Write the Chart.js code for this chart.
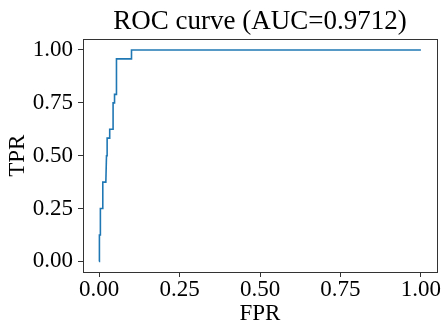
<!DOCTYPE html>
<html>
<head>
<meta charset="utf-8">
<script src="https://cdn.jsdelivr.net/npm/chart.js@4/dist/chart.umd.min.js"></script>
<style>
  html, body { margin: 0; padding: 0; background: #fff; }
  #wrap { width: 443px; height: 322px; }
</style>
</head>
<body>
<div id="wrap"><canvas id="roc"></canvas></div>
<script>
// ROC points (step curve)
const fpr = [0, 0.001, 0.004, 0.004, 0.0115, 0.0115, 0.021, 0.023, 0.025, 0.025, 0.033, 0.033, 0.0435, 0.0435, 0.048, 0.048, 0.053, 0.054, 0.1007, 0.1007, 1.0];
const tpr = [0, 0.125, 0.125, 0.25, 0.25, 0.375, 0.375, 0.5, 0.5, 0.583, 0.583, 0.625, 0.625, 0.75, 0.75, 0.79, 0.79, 0.958, 0.958, 1.0, 1.0];
const tickVals = [0, 0.25, 0.5, 0.75, 1.0];
const titleText = 'ROC curve (AUC=0.9712)';

const serif = '"Liberation Serif", "DejaVu Serif", serif';

const boxPlugin = {
    id: 'box',
    afterDraw(chart) {
        const a = chart.chartArea;
        const ctx = chart.ctx;
        ctx.save();
        ctx.strokeStyle = '#333';
        ctx.lineWidth = 1;
        ctx.strokeRect(Math.round(a.left) + 0.5, Math.round(a.top) + 0.5,
            Math.round(a.right - a.left), Math.round(a.bottom - a.top));
        ctx.restore();
    }
};

const fixTicks = (scale) => {
    scale.ticks = tickVals.map(v => ({value: v}));
};

new Chart(document.getElementById('roc'), {
    type: 'scatter',
    data: {
        datasets: [{
            data: fpr.map((x, i) => ({x: x, y: tpr[i]})),
            showLine: true,
            borderColor: '#1f77b4',
            borderWidth: 1.6,
            pointRadius: 0,
            fill: false
        }]
    },
    options: {
        responsive: true,
        maintainAspectRatio: false,
        animation: false,
        layout: {padding: {left: 0, right: 6, top: 0, bottom: 0}},
        plugins: {
            legend: {display: false},
            tooltip: {enabled: false},
            title: {
                display: true,
                fullSize: false,
                text: titleText,
                color: '#000',
                font: {family: serif, size: 27, weight: 'normal'},
                padding: {top: 6, bottom: 1}
            }
        },
        scales: {
            x: {
                type: 'linear',
                min: -0.05,
                max: 1.05,
                afterBuildTicks: fixTicks,
                afterFit: (s) => { s.height = 50; },
                grid: {drawOnChartArea: false, drawTicks: true, tickLength: 5, color: '#333'},
                border: {display: false},
                ticks: {
                    color: '#000',
                    padding: 1,
                    maxRotation: 0,
                    font: {family: serif, size: 23, lineHeight: 1.0},
                    callback: (v) => v.toFixed(2)
                },
                title: {
                    display: true,
                    text: 'FPR',
                    color: '#000',
                    font: {family: serif, size: 23, lineHeight: 1.0},
                    padding: {top: 0, bottom: -3}
                }
            },
            y: {
                type: 'linear',
                min: -0.05,
                max: 1.05,
                afterBuildTicks: fixTicks,
                afterFit: (s) => { s.width = 83; },
                grid: {drawOnChartArea: false, drawTicks: true, tickLength: 5, color: '#333'},
                border: {display: false},
                ticks: {
                    color: '#000',
                    padding: 5,
                    font: {family: serif, size: 23},
                    callback: (v) => v.toFixed(2)
                },
                title: {
                    display: true,
                    text: 'TPR',
                    color: '#000',
                    font: {family: serif, size: 23, lineHeight: 1.0},
                    padding: {top: 6, bottom: 0}
                }
            }
        }
    },
    plugins: [boxPlugin]
});
</script>
</body>
</html>
